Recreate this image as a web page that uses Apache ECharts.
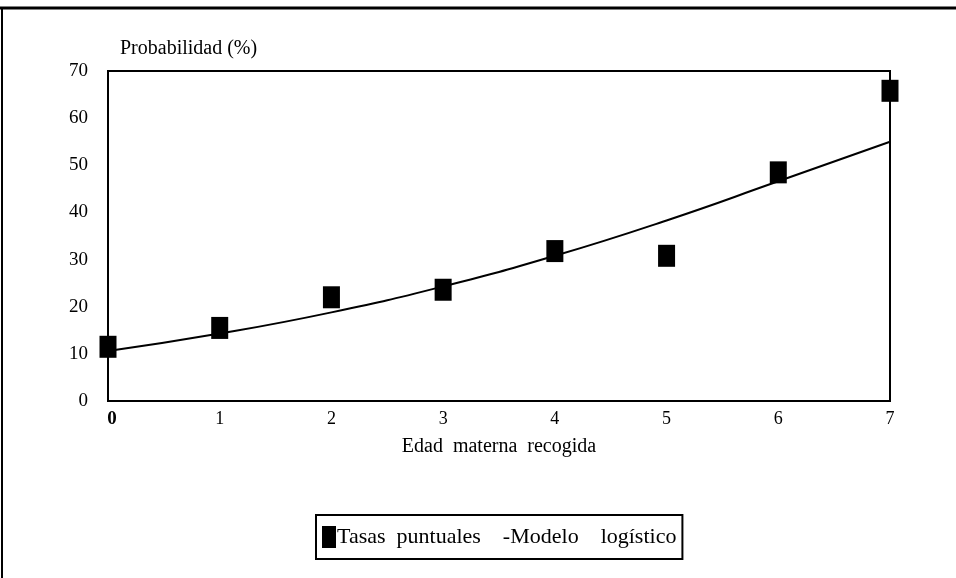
<!DOCTYPE html>
<html>
<head>
<meta charset="utf-8">
<script src="https://cdn.jsdelivr.net/npm/echarts@6/dist/echarts.min.js"></script>
<style>
  html, body { margin: 0; padding: 0; background: #fff; }
  #chart { width: 956px; height: 578px; }
</style>
</head>
<body>
<div id="chart"></div>
<script>
// Edad materna recogida (0-7) and observed vs fitted probability (%)
const edades = [0, 1, 2, 3, 4, 5, 6, 7];
const tasasPuntuales = [11.5, 15.5, 22.0, 23.6, 31.8, 30.8, 48.5, 65.8];
const modeloLogistico = [10.6, 14.3, 18.8, 24.3, 30.8, 38.3, 46.6, 55.0];
const yTicks = [0, 10, 20, 30, 40, 50, 60, 70];

const serif = '"Liberation Serif", "Times New Roman", serif';

const chart = echarts.init(document.getElementById('chart'), null, { renderer: 'canvas' });

chart.setOption({
  animation: false,
  backgroundColor: '#fff',
  textStyle: { fontFamily: serif, color: '#000' },
  grid: {
    left: 108, right: 66, top: 71, bottom: 177,
    show: true, borderColor: '#000', borderWidth: 2, backgroundColor: 'transparent'
  },
  xAxis: {
    type: 'value',
    min: 0, max: 7, interval: 1,
    name: 'Edad  materna  recogida',
    nameLocation: 'middle',
    nameGap: 36,
    nameTextStyle: { fontFamily: serif, fontSize: 20, color: '#000' },
    axisLine: { show: true, lineStyle: { color: '#000', width: 2 } },
    axisTick: { show: false },
    splitLine: { show: false },
    axisLabel: {
      margin: 9,
      fontFamily: serif, fontSize: 18, color: '#000',
      formatter: v => v === 0 ? '{b|0}' : String(v),
      rich: { b: { fontFamily: serif, fontSize: 19, fontWeight: 'bold', color: '#000', padding: [0, 0, 0, 8] } }
    }
  },
  yAxis: {
    type: 'value',
    min: yTicks[0], max: yTicks[yTicks.length - 1], interval: 10,
    name: 'Probabilidad (%)',
    nameLocation: 'end',
    nameGap: 12,
    nameTextStyle: { fontFamily: serif, fontSize: 20, color: '#000', align: 'left', padding: [0, 0, 0, 12] },
    axisLine: { show: true, lineStyle: { color: '#000', width: 2 } },
    axisTick: { show: false },
    splitLine: { show: false },
    axisLabel: { margin: 20, fontFamily: serif, fontSize: 19, color: '#000' }
  },
  legend: {
    left: 316, top: 515,
    padding: [11, 6, 11, 6],
    borderColor: '#000', borderWidth: 2,
    itemWidth: 14, itemHeight: 22,
    data: [{ name: 'Tasas puntuales', icon: 'rect' }],
    formatter: () => 'Tasas  puntuales    -Modelo    logístico',
    textStyle: { fontFamily: serif, fontSize: 22, color: '#000', padding: [0, 0, 0, -4] }
  },
  graphic: [
    // outer frame lines
    { type: 'line', shape: { x1: 0, y1: 8, x2: 956, y2: 8 }, style: { stroke: '#000', lineWidth: 3 } },
    { type: 'line', shape: { x1: 2, y1: 8, x2: 2, y2: 578 }, style: { stroke: '#000', lineWidth: 2 } }
  ],
  series: [
    {
      name: '-Modelo logístico',
      type: 'line',
      smooth: true,
      showSymbol: false,
      symbol: 'none',
      lineStyle: { color: '#000', width: 2 },
      data: edades.map((e, i) => [e, modeloLogistico[i]]),
      z: 2
    },
    {
      name: 'Tasas puntuales',
      type: 'scatter',
      symbol: 'rect',
      symbolSize: [17, 22],
      itemStyle: { color: '#000', opacity: 1 },
      data: edades.map((e, i) => [e, tasasPuntuales[i]]),
      z: 3
    }
  ]
});
</script>
</body>
</html>
